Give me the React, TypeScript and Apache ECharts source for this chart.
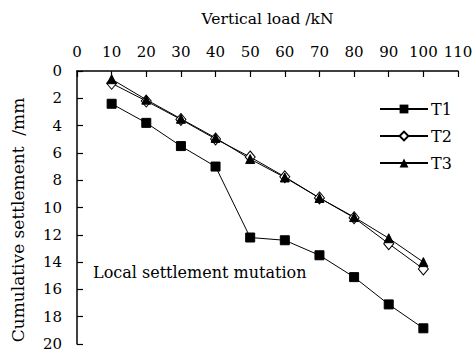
import React, { useEffect, useRef } from "react";
import * as echarts from "echarts";

const loads = [10, 20, 30, 40, 50, 60, 70, 80, 90, 100];
const t1 = [2.4, 3.8, 5.5, 7.0, 12.2, 12.4, 13.5, 15.1, 17.1, 18.85];
const t2 = [0.9, 2.2, 3.55, 4.98, 6.3, 7.75, 9.3, 10.75, 12.65, 14.5];
const t3 = [0.6, 2.1, 3.5, 4.9, 6.45, 7.8, 9.3, 10.7, 12.25, 14.0];
const seriesNames = ["T1", "T2", "T3"];
const annotation = "Local settlement mutation";

const FONT = "DejaVu Serif";

export default function App() {
  const ref = useRef<HTMLDivElement>(null);
  useEffect(() => {
    if (!ref.current) return;
    const chart = echarts.init(ref.current, undefined, { renderer: "svg" });
    const mk = (arr: number[]) => loads.map((x, i) => [x, arr[i]]);
    const base = {
      type: "line",
      lineStyle: { color: "#000", width: 1 },
      itemStyle: { color: "#000", borderColor: "#000" },
      emphasis: { disabled: true },
    };
    chart.setOption({
      animation: false,
      textStyle: { fontFamily: FONT },
      grid: { left: 77, top: 71, right: 18, bottom: 10 },
      legend: {
        orient: "vertical",
        left: 379,
        top: 101,
        padding: 0,
        itemWidth: 48,
        itemHeight: 11,
        itemGap: 11,
        textStyle: { fontFamily: FONT, fontSize: 16, color: "#000", padding: [0, 0, 0, -2] },
        data: seriesNames,
      },
      xAxis: {
        type: "value",
        position: "top",
        min: 0,
        max: 110,
        interval: 10,
        name: "Vertical load /kN",
        nameLocation: "middle",
        nameGap: 44,
        nameTextStyle: { fontFamily: FONT, fontSize: 15.5, color: "#000" },
        axisLine: { show: true, lineStyle: { color: "#000", width: 1.5 } },
        axisTick: { show: true, inside: true, length: 6, lineStyle: { color: "#000", width: 1.2 } },
        axisLabel: { fontFamily: FONT, fontSize: 15, color: "#000", margin: 12 },
        splitLine: { show: false },
      },
      yAxis: {
        type: "value",
        inverse: true,
        min: 0,
        max: 20,
        interval: 2,
        axisLine: { show: true, lineStyle: { color: "#000", width: 1.5 } },
        axisTick: { show: true, inside: true, length: 6, lineStyle: { color: "#000", width: 1.2 } },
        axisLabel: { fontFamily: FONT, fontSize: 15, color: "#000", margin: 15 },
        splitLine: { show: false },
      },
      graphic: [
        {
          type: "text",
          x: 18,
          y: 220,
          rotation: Math.PI / 2,
          style: {
            text: "Cumulative settlement  /mm",
            fontFamily: FONT,
            fontSize: 17,
            fill: "#000",
            align: "center",
            verticalAlign: "middle",
          },
        },
        {
          type: "text",
          x: 93,
          y: 272,
          style: {
            text: annotation,
            fontFamily: FONT,
            fontSize: 16,
            fill: "#000",
            align: "left",
            verticalAlign: "middle",
          },
        },
      ],
      series: [
        { ...base, name: "T1", data: mk(t1), symbol: "rect", symbolSize: 9 },
        {
          ...base,
          name: "T2",
          data: mk(t2),
          symbol: "diamond",
          symbolSize: [10, 12],
          itemStyle: { color: "#fff", borderColor: "#000", borderWidth: 1 },
        },
        { ...base, name: "T3", data: mk(t3), symbol: "triangle", symbolSize: 9 },
      ],
    });
    return () => chart.dispose();
  }, []);
  return (
    <div
      ref={ref}
      style={{ position: "absolute", left: 0, top: 0, width: 476, height: 354 }}
    />
  );
}
